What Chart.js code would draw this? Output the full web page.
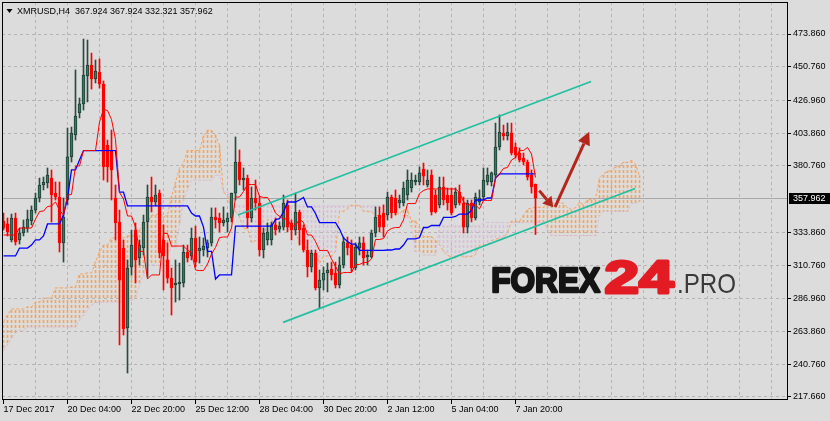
<!DOCTYPE html>
<html>
<head>
<meta charset="utf-8">
<script src="https://cdn.jsdelivr.net/npm/chart.js@4.4.0/dist/chart.umd.min.js"></script>
<style>
  html, body { margin: 0; padding: 0; background: #dcdcdc; }
  #wrap { width: 830px; height: 421px; }
</style>
</head>
<body>
<div id="wrap"><canvas id="chart" width="830" height="421"></canvas></div>
<script>
// XMRUSD H4 candles, bar 0 = 17 Dec 2017
const open = [
  341.9, 339.8, 328.5, 344.0, 328.5, 333.4, 336.9, 341.9, 349.6, 358.1,
  367.3, 368.7, 372.2, 361.6, 358.8, 326.4, 356.7, 387.1, 402.6, 418.1,
  424.5, 444.2, 452.0, 442.1, 447.0, 438.6, 395.5, 392.0, 358.1, 341.2,
  322.8, 266.4, 309.4, 335.5, 315.8, 322.8, 341.2, 358.8, 355.3, 361.6,
  328.5, 314.4, 301.6, 296.7, 297.4, 298.1, 320.0, 317.2, 329.9, 320.7,
  321.4, 322.8, 326.4, 344.7, 344.0, 340.5, 341.2, 344.0, 361.6, 383.5,
  370.8, 372.2, 344.0, 358.1, 354.6, 321.4, 328.5, 328.5, 339.1, 336.2,
  337.6, 353.2, 340.5, 335.5, 348.2, 336.9, 321.4, 309.4, 319.3, 294.6,
  300.2, 305.2, 308.0, 305.2, 296.7, 310.8, 326.4, 324.9, 308.7, 322.8,
  326.4, 316.5, 316.5, 333.4, 346.1, 347.5, 346.1, 358.8, 358.1, 354.6,
  354.6, 360.2, 365.2, 369.4, 369.4, 378.6, 367.3, 374.3, 360.2, 353.2,
  365.9, 360.2, 360.2, 353.2, 362.3, 354.6, 337.6, 354.6, 344.0, 355.3,
  358.8, 369.4, 369.4, 374.3, 394.1, 404.0, 401.9, 404.0, 394.1, 389.9,
  386.3, 383.5, 374.3, 367.924
];
const high = [
  347.5, 344.0, 346.8, 347.5, 336.9, 342.6, 349.6, 352.5, 361.6, 372.2,
  372.9, 379.3, 377.9, 369.4, 369.4, 358.1, 407.5, 408.2, 448.5, 428.7,
  470.3, 469.6, 460.4, 455.5, 456.2, 440.7, 399.0, 406.1, 367.3, 349.6,
  328.5, 314.4, 335.5, 340.5, 328.5, 346.1, 367.3, 372.9, 367.3, 363.8,
  339.1, 326.4, 308.7, 314.4, 312.2, 324.9, 324.9, 336.9, 338.3, 330.6,
  329.9, 328.5, 351.1, 351.1, 347.5, 351.8, 347.5, 361.6, 401.2, 392.0,
  379.3, 374.3, 365.9, 370.8, 359.5, 336.9, 340.5, 341.2, 344.0, 341.2,
  360.2, 356.7, 342.6, 361.6, 349.6, 339.1, 328.5, 321.4, 321.4, 307.3,
  309.4, 312.2, 312.9, 312.9, 316.5, 330.6, 330.6, 328.5, 326.4, 330.6,
  330.6, 321.4, 335.5, 351.8, 351.8, 353.2, 362.3, 360.2, 363.8, 360.2,
  369.4, 377.9, 375.8, 374.3, 380.0, 382.8, 377.9, 377.9, 363.8, 372.9,
  372.9, 365.2, 365.2, 365.2, 367.3, 358.8, 356.7, 356.7, 361.6, 363.8,
  379.3, 379.3, 376.5, 411.0, 416.7, 409.6, 411.0, 411.0, 396.9, 393.4,
  389.9, 384.9, 377.9, 367.924
];
const low = [
  335.5, 331.3, 327.1, 324.9, 325.6, 331.3, 334.1, 339.1, 347.5, 355.3,
  363.8, 365.2, 341.2, 356.7, 320.0, 312.9, 353.2, 383.5, 399.0, 414.6,
  420.2, 425.9, 435.0, 439.3, 435.7, 370.8, 369.4, 356.7, 328.5, 254.4,
  261.4, 234.6, 303.8, 298.1, 310.8, 317.9, 302.4, 348.2, 352.5, 315.8,
  293.2, 298.1, 275.5, 284.7, 286.1, 295.3, 312.9, 314.4, 309.4, 312.2,
  317.2, 316.5, 324.2, 336.9, 334.1, 338.3, 334.1, 341.2, 356.7, 367.3,
  363.8, 336.9, 341.2, 349.6, 317.2, 315.8, 324.9, 324.9, 332.0, 334.1,
  335.5, 334.1, 328.5, 332.0, 324.9, 320.0, 302.4, 305.9, 293.2, 280.5,
  293.2, 291.8, 300.2, 294.6, 294.6, 308.7, 317.9, 305.9, 307.3, 317.9,
  310.8, 310.8, 315.8, 330.6, 334.1, 330.6, 342.6, 344.0, 346.1, 351.1,
  352.5, 356.7, 362.3, 367.3, 367.3, 367.3, 365.9, 346.1, 347.5, 351.1,
  353.2, 349.6, 346.1, 351.1, 353.2, 333.4, 333.4, 341.2, 342.6, 353.2,
  356.7, 367.3, 366.6, 372.2, 392.0, 399.0, 399.0, 388.5, 386.3, 383.5,
  381.4, 370.8, 361.6, 332.321
];
const close = [
  336.9, 334.1, 344.0, 327.1, 333.4, 337.6, 343.3, 349.6, 358.1, 367.3,
  369.4, 374.3, 360.2, 358.8, 326.4, 344.7, 387.1, 404.0, 416.0, 424.5,
  444.9, 452.0, 442.1, 447.7, 438.6, 380.0, 380.0, 377.9, 340.5, 300.2,
  265.7, 308.7, 324.9, 314.4, 324.9, 341.2, 358.8, 355.3, 360.2, 319.3,
  317.2, 301.6, 294.6, 298.1, 298.8, 320.0, 315.8, 329.9, 312.9, 322.8,
  324.2, 326.4, 344.7, 342.6, 340.5, 342.6, 344.0, 361.6, 383.5, 370.8,
  372.2, 344.0, 358.1, 354.6, 321.4, 333.4, 334.1, 339.1, 335.5, 338.3,
  354.6, 337.6, 335.5, 348.2, 335.5, 321.4, 309.4, 319.3, 294.6, 300.2,
  305.2, 307.3, 303.8, 296.7, 310.8, 327.1, 322.8, 308.7, 323.5, 326.4,
  315.8, 317.9, 333.4, 344.7, 337.6, 337.6, 358.8, 347.5, 347.5, 356.7,
  365.2, 370.8, 370.8, 370.8, 375.8, 373.6, 370.8, 348.2, 348.2, 365.9,
  356.7, 354.6, 347.5, 362.3, 354.6, 337.6, 354.6, 344.0, 358.8, 358.1,
  370.8, 374.3, 375.8, 394.1, 404.7, 401.9, 404.7, 389.9, 388.5, 384.9,
  383.5, 372.9, 365.9, 357.962
];

// Ichimoku lines
const tenkan = [
  332.0, 332.0, 332.0, 332.0, 336.9, 336.9, 336.9, 336.9, 343.3, 348.6,
  348.9, 352.1, 352.5, 355.3, 349.6, 346.1, 360.2, 360.6, 380.7, 380.7,
  391.6, 391.6, 391.6, 391.6, 411.8, 420.6, 419.9, 413.5, 399.4, 362.0,
  357.4, 345.4, 345.4, 337.6, 320.4, 320.4, 300.9, 303.8, 303.8, 303.8,
  333.1, 333.1, 324.2, 324.2, 324.2, 324.2, 321.4, 319.6, 307.3, 306.9,
  306.9, 311.5, 318.6, 323.2, 330.2, 330.6, 330.6, 336.9, 358.8, 358.8,
  362.7, 367.6, 367.6, 367.6, 359.2, 358.5, 358.5, 353.9, 347.5, 345.1,
  343.3, 343.3, 338.0, 338.7, 343.3, 340.8, 332.0, 332.0, 327.4, 321.1,
  321.1, 321.1, 315.1, 309.8, 304.5, 305.5, 305.5, 305.5, 311.2, 311.2,
  312.6, 312.6, 315.1, 328.8, 328.8, 329.5, 334.8, 336.6, 337.3, 337.3,
  342.6, 354.2, 354.2, 354.2, 361.3, 363.4, 364.5, 364.5, 364.5, 364.5,
  364.5, 364.5, 364.5, 364.5, 362.0, 355.6, 353.2, 353.2, 353.2, 350.4,
  356.4, 356.4, 356.4, 372.2, 375.1, 379.0, 379.6, 384.9, 386.7, 391.6,
  391.6, 393.8, 389.2, 372.6
];
const kijun = [
  317.2, 317.2, 317.2, 317.2, 322.8, 322.8, 322.8, 324.9, 328.5, 328.5,
  331.3, 339.8, 339.8, 339.8, 339.8, 346.1, 358.1, 377.9, 377.9, 384.9,
  391.6, 391.6, 391.6, 391.6, 391.6, 391.6, 391.6, 391.6, 391.6, 362.3,
  362.3, 352.5, 352.5, 352.5, 352.5, 352.5, 352.5, 352.5, 352.5, 352.5,
  352.5, 352.5, 352.5, 352.5, 352.5, 352.5, 352.5, 347.5, 345.4, 345.4,
  337.6, 320.4, 320.4, 300.9, 303.8, 303.8, 303.8, 303.8, 338.3, 338.3,
  338.3, 338.3, 338.3, 338.3, 338.3, 338.3, 338.3, 338.3, 342.9, 343.6,
  348.2, 355.3, 355.3, 355.3, 356.7, 358.5, 351.8, 351.8, 347.2, 340.8,
  340.8, 340.8, 340.8, 340.8, 336.2, 329.9, 327.4, 325.6, 325.6, 321.1,
  321.1, 321.1, 321.1, 321.1, 321.1, 321.1, 321.4, 321.4, 322.1, 322.1,
  324.9, 329.2, 329.2, 329.2, 330.2, 337.3, 337.3, 338.7, 338.7, 338.7,
  344.4, 344.4, 344.4, 345.1, 346.8, 346.8, 346.8, 349.3, 356.7, 356.7,
  356.7, 358.1, 358.1, 372.2, 375.1, 375.1, 375.1, 375.1, 375.1, 375.1,
  375.1, 375.1, 375.1, 375.1
];
// cloud, already shifted 26 bars forward (bars 0..159)
const spanA = [
  270.6, 275.5, 279.8, 279.8, 279.8, 279.8, 281.2, 281.2, 284.7, 284.7,
  287.5, 287.5, 287.5, 294.6, 294.6, 294.6, 294.6, 295.3, 295.3, 304.5,
  304.5, 305.2, 305.2, 312.9, 320.0, 324.9, 324.9, 329.9, 329.9, 329.9,
  329.9, 331.3, 331.3, 331.3, 335.9, 338.5, 340.1, 346.0, 346.1, 347.5,
  344.7, 346.1, 359.2, 369.2, 379.3, 382.8, 391.6, 391.6, 391.6, 391.6,
  401.7, 406.1, 405.8, 402.6, 395.5, 362.2, 359.9, 348.9, 348.9, 345.1,
  336.4, 336.4, 326.7, 328.1, 328.1, 328.1, 342.8, 342.8, 338.4, 338.4,
  338.4, 338.4, 336.9, 334.1, 326.4, 326.2, 322.3, 315.9, 319.5, 312.1,
  317.0, 317.2, 317.2, 320.4, 348.6, 348.6, 350.5, 353.0, 353.0, 353.0,
  348.8, 348.4, 348.4, 346.1, 345.2, 344.4, 345.8, 349.3, 346.6, 347.0,
  350.0, 349.6, 341.9, 341.9, 337.3, 330.9, 330.9, 330.9, 328.0, 325.3,
  320.4, 317.7, 316.5, 315.6, 318.4, 316.1, 316.8, 316.8, 318.1, 324.9,
  324.9, 325.3, 328.1, 329.0, 329.7, 329.7, 333.8, 341.7, 341.7, 341.7,
  345.8, 350.4, 350.9, 351.6, 351.6, 351.6, 354.4, 354.4, 354.4, 354.8,
  354.4, 351.2, 350.0, 351.2, 354.9, 353.5, 356.5, 357.2, 357.2, 372.2,
  375.1, 377.0, 377.3, 380.0, 380.9, 383.3, 383.3, 384.4, 382.1, 373.8
];
const spanB = [
  250.8, 254.4, 259.3, 262.8, 264.9, 264.9, 267.1, 267.1, 267.1, 267.1,
  267.1, 267.1, 267.1, 267.1, 267.1, 267.1, 267.1, 267.1, 267.1, 272.0,
  275.5, 279.1, 282.6, 284.0, 284.7, 284.7, 284.7, 284.7, 284.7, 284.7,
  284.7, 284.7, 286.1, 287.5, 296.7, 303.8, 310.8, 310.8, 310.8, 310.8,
  312.9, 317.9, 323.5, 323.5, 339.1, 356.7, 363.8, 370.8, 370.8, 370.8,
  370.8, 370.8, 370.8, 374.3, 374.3, 362.3, 362.3, 352.5, 352.5, 352.5,
  352.5, 352.5, 352.5, 352.5, 352.5, 352.5, 352.5, 352.5, 352.5, 352.5,
  352.5, 352.5, 352.5, 352.5, 352.5, 352.5, 352.5, 352.5, 352.5, 352.5,
  352.5, 352.5, 352.5, 352.5, 352.5, 352.5, 352.5, 352.5, 352.5, 352.5,
  352.5, 352.5, 352.5, 352.5, 352.5, 352.5, 352.5, 352.5, 352.1, 347.5,
  345.4, 345.4, 337.6, 320.4, 320.4, 317.9, 317.9, 317.9, 317.9, 338.4,
  338.4, 338.4, 338.4, 338.4, 338.4, 338.4, 338.4, 338.4, 338.4, 338.4,
  340.8, 340.8, 340.8, 340.8, 340.8, 340.8, 340.8, 340.8, 340.8, 340.8,
  340.8, 340.8, 340.8, 340.8, 340.8, 340.8, 336.2, 331.6, 331.6, 331.6,
  331.6, 331.6, 331.6, 331.6, 331.6, 331.6, 331.6, 331.6, 331.6, 345.8,
  348.6, 348.6, 348.6, 348.6, 348.6, 348.6, 348.6, 354.2, 354.2, 355.6
];

// drawn objects, in [bar, price]
const channelUpper = [[58.6, 346.1], [146.9, 440.3]];
const channelLower = [[69.9, 270.3], [157.9, 364.8]];
const arrowShort = [[133.95, 363.3], [137.45, 351.5]];
const arrowLong = [[137.9, 351.8], [146.45, 404.9]];

// axes
const yTicks = [217.66, 240.76, 263.86, 286.96, 310.76, 333.86, 380.76, 403.86, 426.96, 450.76, 473.86];
const xTickBars = [0, 16, 32, 48, 64, 80, 96, 112, 128];
const xTickLabels = ['17 Dec 2017', '20 Dec 04:00', '22 Dec 20:00', '25 Dec 12:00', '28 Dec 04:00',
                     '30 Dec 20:00', '2 Jan 12:00', '5 Jan 04:00', '7 Jan 20:00'];

const FONT = '"Liberation Sans", Arial, sans-serif';
const up = close.map((c, i) => c >= open[i]);

function hatch(color) {
  const c = document.createElement('canvas');
  c.width = 1; c.height = 5;
  const g = c.getContext('2d');
  g.fillStyle = color;
  g.fillRect(0, 0, 1, 3);
  return g.createPattern(c, 'repeat');
}

function drawArrow(ctx, x1, y1, x2, y2, head, half) {
  const a = Math.atan2(y2 - y1, x2 - x1);
  const hx = x2 - head * Math.cos(a), hy = y2 - head * Math.sin(a);
  ctx.beginPath(); ctx.moveTo(x1, y1); ctx.lineTo(hx, hy); ctx.stroke();
  ctx.beginPath();
  ctx.moveTo(x2, y2);
  ctx.lineTo(hx + half * Math.sin(a), hy - half * Math.cos(a));
  ctx.lineTo(hx - half * Math.sin(a), hy + half * Math.cos(a));
  ctx.closePath(); ctx.fill();
}

// text squeezed to a given width; "heavy" adds an outline to thicken strokes
function fitText(ctx, txt, font, color, x, base, w, heavy) {
  ctx.font = font;
  const m = ctx.measureText(txt).width + (heavy || 0);
  ctx.save();
  ctx.translate(x + (heavy || 0) / 2, base);
  ctx.scale(w / m, 1);
  ctx.fillStyle = color;
  ctx.fillText(txt, 0, 0);
  if (heavy) {
    ctx.strokeStyle = color;
    ctx.lineWidth = heavy;
    ctx.lineJoin = 'round';
    ctx.strokeText(txt, 0, 0);
  }
  ctx.restore();
}

const overlay = {
  id: 'overlay',
  beforeDraw(chart) {
    const {ctx, width, height} = chart;
    ctx.save();
    ctx.fillStyle = '#dcdcdc';
    ctx.fillRect(0, 0, width, height);
    ctx.restore();
  },
  beforeDatasetsDraw(chart) {
    const {ctx, chartArea: a, scales: {y}} = chart;
    ctx.save();
    // watermark
    fitText(ctx, 'FOREX', 'bold 35px "Liberation Sans", Arial, sans-serif', '#141414', 490, 292, 111, 2.5);
    fitText(ctx, '24', 'bold 47px "Liberation Sans", Arial, sans-serif', '#e31b23', 603, 293, 73, 3);
    fitText(ctx, '.PRO', '28px "Liberation Sans", Arial, sans-serif', '#3a3a3a', 677, 293, 59, 0);
    // bid line
    const py = Math.round(y.getPixelForValue(close[close.length - 1])) + 0.5;
    ctx.strokeStyle = '#a8a8a8';
    ctx.lineWidth = 1;
    ctx.beginPath(); ctx.moveTo(a.left, py); ctx.lineTo(a.right, py); ctx.stroke();
    ctx.restore();
  },
  afterDatasetsDraw(chart) {
    const {ctx, scales: {x, y}} = chart;
    ctx.save();
    ctx.strokeStyle = '#b3261e';
    ctx.fillStyle = '#b3261e';
    ctx.lineWidth = 3;
    ctx.lineCap = 'butt';
    const px = p => [x.getPixelForValue(p[0]), y.getPixelForValue(p[1])];
    let [a1, b1] = px(arrowShort[0]), [a2, b2] = px(arrowShort[1]);
    drawArrow(ctx, a1, b1, a2, b2, 10, 6);
    [a1, b1] = px(arrowLong[0]); [a2, b2] = px(arrowLong[1]);
    drawArrow(ctx, a1, b1, a2, b2, 13, 6.5);
    ctx.restore();
  },
  afterDraw(chart) {
    const {ctx, chartArea: a, scales: {y}} = chart;
    ctx.save();
    // frame
    ctx.strokeStyle = '#000';
    ctx.lineWidth = 1;
    ctx.strokeRect(a.left + 0.5, a.top + 0.5, a.right - a.left, a.bottom - a.top - 1);
    // title
    ctx.fillStyle = '#000';
    ctx.beginPath(); ctx.moveTo(6.5, 9); ctx.lineTo(12.5, 9); ctx.lineTo(9.5, 13); ctx.closePath(); ctx.fill();
    ctx.font = '9px ' + FONT;
    ctx.textBaseline = 'alphabetic';
    const last = close.length - 1;
    ctx.fillText('XMRUSD,H4  ' + open[last].toFixed(3) + ' ' + high[last].toFixed(3) + ' ' +
                 low[last].toFixed(3) + ' ' + close[last].toFixed(3), 17, 14);
    // price tag
    const py = Math.round(y.getPixelForValue(close[last]));
    ctx.fillRect(789, py - 5, 41, 11);
    ctx.fillStyle = '#fff';
    ctx.textBaseline = 'middle';
    ctx.fillText(close[last].toFixed(3), 793, py + 0.5);
    ctx.restore();
  }
};

const candleIdx = open.map((o, i) => i);
const cloudIdx = spanA.map((v, j) => j);

new Chart(document.getElementById('chart'), {
  type: 'bar',
  data: {
    datasets: [
      { type: 'line', data: tenkan.map((v, i) => ({x: i, y: v})), borderColor: '#ff0000', borderWidth: 1,
        pointRadius: 0, order: 1 },
      { type: 'line', data: kijun.map((v, i) => ({x: i, y: v})), borderColor: '#0000ff', borderWidth: 1.3,
        pointRadius: 0, order: 2 },
      { type: 'line', data: channelUpper.map(p => ({x: p[0], y: p[1]})), borderColor: '#22bfa0', borderWidth: 1.7,
        pointRadius: 0, order: 0 },
      { type: 'line', data: channelLower.map(p => ({x: p[0], y: p[1]})), borderColor: '#22bfa0', borderWidth: 1.7,
        pointRadius: 0, order: 0 },
      { data: candleIdx.map(i => ({x: i, y: [open[i], close[i]]})),
        backgroundColor: up.map(u => u ? '#347a62' : '#ff0000'),
        borderColor: up.map(u => u ? '#1f3d34' : '#ff0000'),
        borderWidth: 1, borderSkipped: false, barThickness: 3, minBarLength: 1, grouped: false, order: 4 },
      { data: candleIdx.map(i => ({x: i, y: [low[i], high[i]]})),
        backgroundColor: up.map(u => u ? '#2b4a42' : '#ff0000'),
        barThickness: 1, grouped: false, order: 5 },
      { type: 'line', data: cloudIdx.map(j => ({x: j, y: spanA[j]})), borderColor: '#f4a460', borderWidth: 1,
        borderDash: [3, 2], pointRadius: 0, order: 8 },
      { type: 'line', data: cloudIdx.map(j => ({x: j, y: spanB[j]})), borderColor: '#d8bfd8', borderWidth: 1,
        borderDash: [3, 2], pointRadius: 0, order: 8 },
      { data: cloudIdx.map(j => ({x: j, y: spanA[j] >= spanB[j] ? [spanB[j], spanA[j]] : null})),
        backgroundColor: hatch('#f4a460'), barThickness: 1, grouped: false, order: 10 },
      { data: cloudIdx.map(j => ({x: j, y: spanA[j] < spanB[j] ? [spanA[j], spanB[j]] : null})),
        backgroundColor: hatch('#d8bfd8'), barThickness: 1, grouped: false, order: 10 }
    ]
  },
  options: {
    responsive: false,
    animation: false,
    devicePixelRatio: 1,
    layout: { padding: { left: 2, top: 2, right: 0, bottom: 0 } },
    plugins: { legend: { display: false }, tooltip: { enabled: false } },
    scales: {
      x: {
        type: 'linear', min: -0.375, max: 195.875, offset: false,
        afterBuildTicks: s => { s.ticks = []; for (let b = 0; b <= 192; b += 8) s.ticks.push({value: b}); },
        afterFit: s => { s.height = 21; s.paddingLeft = 0; s.paddingRight = 0; },
        grid: {
          offset: false, tickLength: 4,
          color: c => (c.tick && c.tick.value > 0) ? '#b4b4b4' : 'rgba(0,0,0,0)',
          tickColor: c => (c.tick && xTickBars.includes(c.tick.value)) ? '#000' : 'rgba(0,0,0,0)'
        },
        border: { display: false, dash: [3, 3] },
        ticks: {
          autoSkip: false, maxRotation: 0, align: 'start', padding: 0, color: '#000',
          font: { family: FONT, size: 9 },
          callback: v => { const k = xTickBars.indexOf(v); return k >= 0 ? xTickLabels[k] : ''; }
        }
      },
      y: {
        type: 'linear', position: 'right', min: 215.54, max: 496.45,
        afterBuildTicks: s => { s.ticks = yTicks.map(v => ({value: v})); },
        afterFit: s => { s.width = 43; s.paddingTop = 0; s.paddingBottom = 0; },
        grid: { tickLength: 4, color: '#b4b4b4', tickColor: '#000' },
        border: { display: false, dash: [3, 3] },
        ticks: {
          padding: 2, color: '#000', font: { family: FONT, size: 9 },
          callback: v => v.toFixed(3)
        }
      }
    }
  },
  plugins: [overlay]
});
</script>
</body>
</html>
